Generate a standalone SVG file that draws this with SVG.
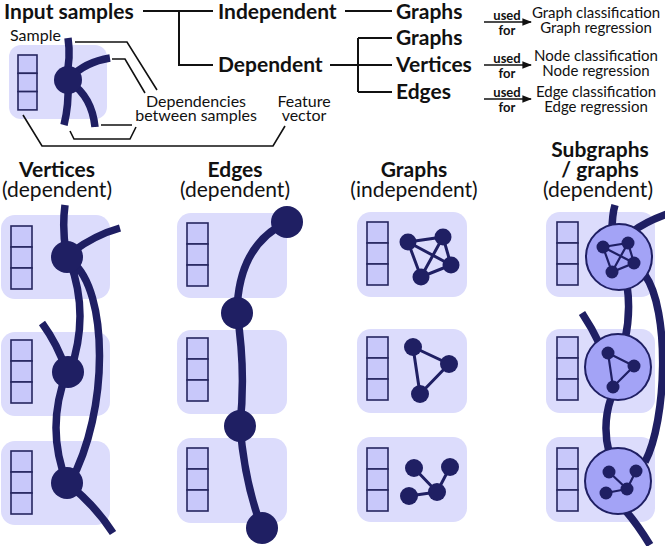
<svg xmlns="http://www.w3.org/2000/svg" xmlns:xlink="http://www.w3.org/1999/xlink" width="665" height="546" viewBox="0 0 665 546">
<style>
text{font-family:Lato,"Liberation Sans",sans-serif;fill:#111}
.b{font-weight:bold}
.h{font-size:21px}
.s{font-size:16px}
.r{font-size:15px}
.u{font-size:13px;font-weight:bold}
.ln{fill:none;stroke:#111;stroke-width:2}
.ld{fill:none;stroke:#111;stroke-width:1.6}
.box{fill:#dcdcfc}
.sq{fill:#c8c8fa;stroke:#26265f;stroke-width:1.6}
.e{fill:none;stroke:#1f1f63;stroke-width:7.5;stroke-linecap:butt}
.n{fill:#1f1f63}
.ge{fill:none;stroke:#1f1f63;stroke-width:3}
.sg{fill:#a3a3f6;stroke:#1f1f63;stroke-width:2}
</style>
<defs>
<marker id="ar" viewBox="0 0 10 10" refX="9" refY="5" markerWidth="6" markerHeight="6" orient="auto"><path d="M0,1 L10,5 L0,9 z" fill="#111"/></marker>
<g id="fv"><rect class="sq" x="0" y="0" width="21" height="21"/><rect class="sq" x="0" y="21" width="21" height="21"/><rect class="sq" x="0" y="42" width="21" height="21"/></g>
</defs>

<g id="tree">
<text class="b h" x="4" y="19">Input samples</text>
<text class="b h" x="218" y="19">Independent</text>
<text class="b h" x="218" y="72">Dependent</text>
<text class="b h" x="396" y="19">Graphs</text>
<text class="b h" x="396" y="45">Graphs</text>
<text class="b h" x="396" y="72">Vertices</text>
<text class="b h" x="396" y="99">Edges</text>
<path class="ln" d="M143,11 H213 M179,11 V65 H213 M345,11 H392 M330,65 H392 M358,38 V92 M358,38 H392 M358,92 H392"/>
</g>

<g id="uses">
<line class="ld" x1="484" y1="22" x2="531" y2="22" marker-end="url(#ar)"/>
<text class="u" x="507" y="20" text-anchor="middle">used</text>
<text class="u" x="507" y="35" text-anchor="middle">for</text>
<text class="r" x="596" y="18" text-anchor="middle">Graph classification</text>
<text class="r" x="596" y="33" text-anchor="middle">Graph regression</text>
<line class="ld" x1="484" y1="65" x2="531" y2="65" marker-end="url(#ar)"/>
<text class="u" x="507" y="63" text-anchor="middle">used</text>
<text class="u" x="507" y="78" text-anchor="middle">for</text>
<text class="r" x="596" y="61" text-anchor="middle">Node classification</text>
<text class="r" x="596" y="76" text-anchor="middle">Node regression</text>
<line class="ld" x1="484" y1="99" x2="531" y2="99" marker-end="url(#ar)"/>
<text class="u" x="507" y="97" text-anchor="middle">used</text>
<text class="u" x="507" y="112" text-anchor="middle">for</text>
<text class="r" x="596" y="97" text-anchor="middle">Edge classification</text>
<text class="r" x="596" y="112" text-anchor="middle">Edge regression</text>
</g>

<g id="legend">
<rect class="box" x="9" y="45" width="98" height="74" rx="12"/>
<rect class="sq" x="18" y="55" width="19" height="18.3"/>
<rect class="sq" x="18" y="73.3" width="19" height="18.3"/>
<rect class="sq" x="18" y="91.6" width="19" height="18.3"/>
<path class="e" d="M68,38 Q71,58 66,78 M70,78 Q85,62 110,58 M68,82 Q69,105 64,125 M70,82 Q92,97 95,127"/>
<circle class="n" cx="68" cy="80" r="14"/>
<text class="s" x="10" y="41">Sample</text>
<text class="s" x="196" y="107" text-anchor="middle">Dependencies</text>
<text class="s" x="196" y="121" text-anchor="middle">between samples</text>
<text class="s" x="304" y="107" text-anchor="middle">Feature</text>
<text class="s" x="304" y="121" text-anchor="middle">vector</text>
<path class="ld" d="M75,42 H127 L157,90 M112,59 H125 L145,93 M101,125 H132 M70,131 L74,139 H130 L136,127 M23,115 L42,146 H273 L285,126"/>
</g>

<g id="col-vertices">
<text class="b h" x="57" y="177" text-anchor="middle">Vertices</text>
<text class="h" x="57" y="197" text-anchor="middle">(dependent)</text>
<rect class="box" x="1" y="215" width="109" height="84" rx="14"/>
<rect class="box" x="1" y="332" width="109" height="84" rx="14"/>
<rect class="box" x="1" y="441" width="109" height="84" rx="14"/>
<use xlink:href="#fv" x="11" y="226"/>
<use xlink:href="#fv" x="11" y="340"/>
<use xlink:href="#fv" x="11" y="451"/>
<path class="e" d="M65,205 Q62,228 66,252 M72,252 Q95,235 120,228 M70,262 Q90,315 70,372 M72,262 C108,290 110,410 70,483 M42,323 Q58,345 66,370 M67,372 Q45,428 67,483 M67,483 Q95,505 113,533"/>
<circle class="n" cx="67" cy="257" r="16"/>
<circle class="n" cx="68" cy="372" r="16"/>
<circle class="n" cx="67" cy="483" r="16"/>
</g>

<g id="col-edges">
<text class="b h" x="235" y="177" text-anchor="middle">Edges</text>
<text class="h" x="235" y="197" text-anchor="middle">(dependent)</text>
<rect class="box" x="177" y="213" width="110" height="85" rx="14"/>
<rect class="box" x="177" y="330" width="110" height="84" rx="14"/>
<rect class="box" x="177" y="438" width="110" height="85" rx="14"/>
<use xlink:href="#fv" x="187" y="223"/>
<use xlink:href="#fv" x="187" y="338"/>
<use xlink:href="#fv" x="187" y="448"/>
<path class="e" d="M287,222 Q238,245 237,313 M237,313 Q246,370 240,426 M240,426 Q245,485 262,528"/>
<circle class="n" cx="287" cy="222" r="16"/>
<circle class="n" cx="237" cy="313" r="16"/>
<circle class="n" cx="240" cy="426" r="16"/>
<circle class="n" cx="262" cy="528" r="16"/>
</g>

<g id="col-graphs">
<text class="b h" x="414" y="177" text-anchor="middle">Graphs</text>
<text class="h" x="414" y="197" text-anchor="middle">(independent)</text>
<rect class="box" x="357" y="212" width="110" height="85" rx="14"/>
<rect class="box" x="357" y="329" width="110" height="84" rx="14"/>
<rect class="box" x="357" y="437" width="110" height="85" rx="14"/>
<use xlink:href="#fv" x="367" y="222"/>
<use xlink:href="#fv" x="367" y="337"/>
<use xlink:href="#fv" x="367" y="448"/>
<path class="ge" d="M408,242 L443,237 L451,265 L421,277 Z M408,242 L451,265 M443,237 L421,277"/>
<g class="n"><circle cx="408" cy="242" r="8.5"/><circle cx="443" cy="237" r="8.5"/><circle cx="451" cy="265" r="8.5"/><circle cx="421" cy="277" r="8.5"/></g>
<path class="ge" d="M413,347 L449,364 L420,394 Z"/>
<g class="n"><circle cx="413" cy="347" r="9"/><circle cx="449" cy="364" r="9"/><circle cx="420" cy="394" r="9"/></g>
<path class="ge" d="M414,468 L437,492 L450,467 M437,492 L409,496"/>
<g class="n"><circle cx="414" cy="468" r="9"/><circle cx="450" cy="467" r="9"/><circle cx="437" cy="492" r="9"/><circle cx="409" cy="496" r="9"/></g>
</g>

<g id="col-subgraphs">
<text class="b h" x="600" y="157" text-anchor="middle">Subgraphs</text>
<text class="b h" x="600" y="177" text-anchor="middle">/ graphs</text>
<text class="h" x="598" y="197" text-anchor="middle">(dependent)</text>
<rect class="box" x="546" y="212" width="109" height="85" rx="14"/>
<rect class="box" x="546" y="329" width="109" height="84" rx="14"/>
<rect class="box" x="546" y="437" width="109" height="85" rx="14"/>
<use xlink:href="#fv" x="557" y="222"/>
<use xlink:href="#fv" x="557" y="337"/>
<use xlink:href="#fv" x="557" y="448"/>
<path class="e" d="M615,205 Q612,215 612,232 M632,232 Q645,222 667,214 M627,285 Q631,312 625,340 M645,275 C670,310 667,420 645,462 M582,313 Q592,328 600,345 M611,398 Q602,425 609,452 M625,510 Q638,525 650,545"/>
<circle class="sg" cx="619" cy="257" r="33"/>
<circle class="sg" cx="618" cy="367" r="33"/>
<circle class="sg" cx="618" cy="481" r="33"/>
<path class="ge" style="stroke-width:2.2" d="M603,247 L628,243 L634,263 L612,272 Z M603,247 L634,263 M628,243 L612,272"/>
<g class="n"><circle cx="603" cy="247" r="6.5"/><circle cx="628" cy="243" r="6.5"/><circle cx="634" cy="263" r="6.5"/><circle cx="612" cy="272" r="6.5"/></g>
<path class="ge" style="stroke-width:2.2" d="M608,353 L634,366 L613,387 Z"/>
<g class="n"><circle cx="608" cy="353" r="6.5"/><circle cx="634" cy="366" r="6.5"/><circle cx="613" cy="387" r="6.5"/></g>
<path class="ge" style="stroke-width:2.2" d="M609,472 L627,489 L636,471 M627,489 L606,493"/>
<g class="n"><circle cx="609" cy="472" r="6.5"/><circle cx="636" cy="471" r="6.5"/><circle cx="627" cy="489" r="6.5"/><circle cx="606" cy="493" r="6.5"/></g>
</g>
</svg>
